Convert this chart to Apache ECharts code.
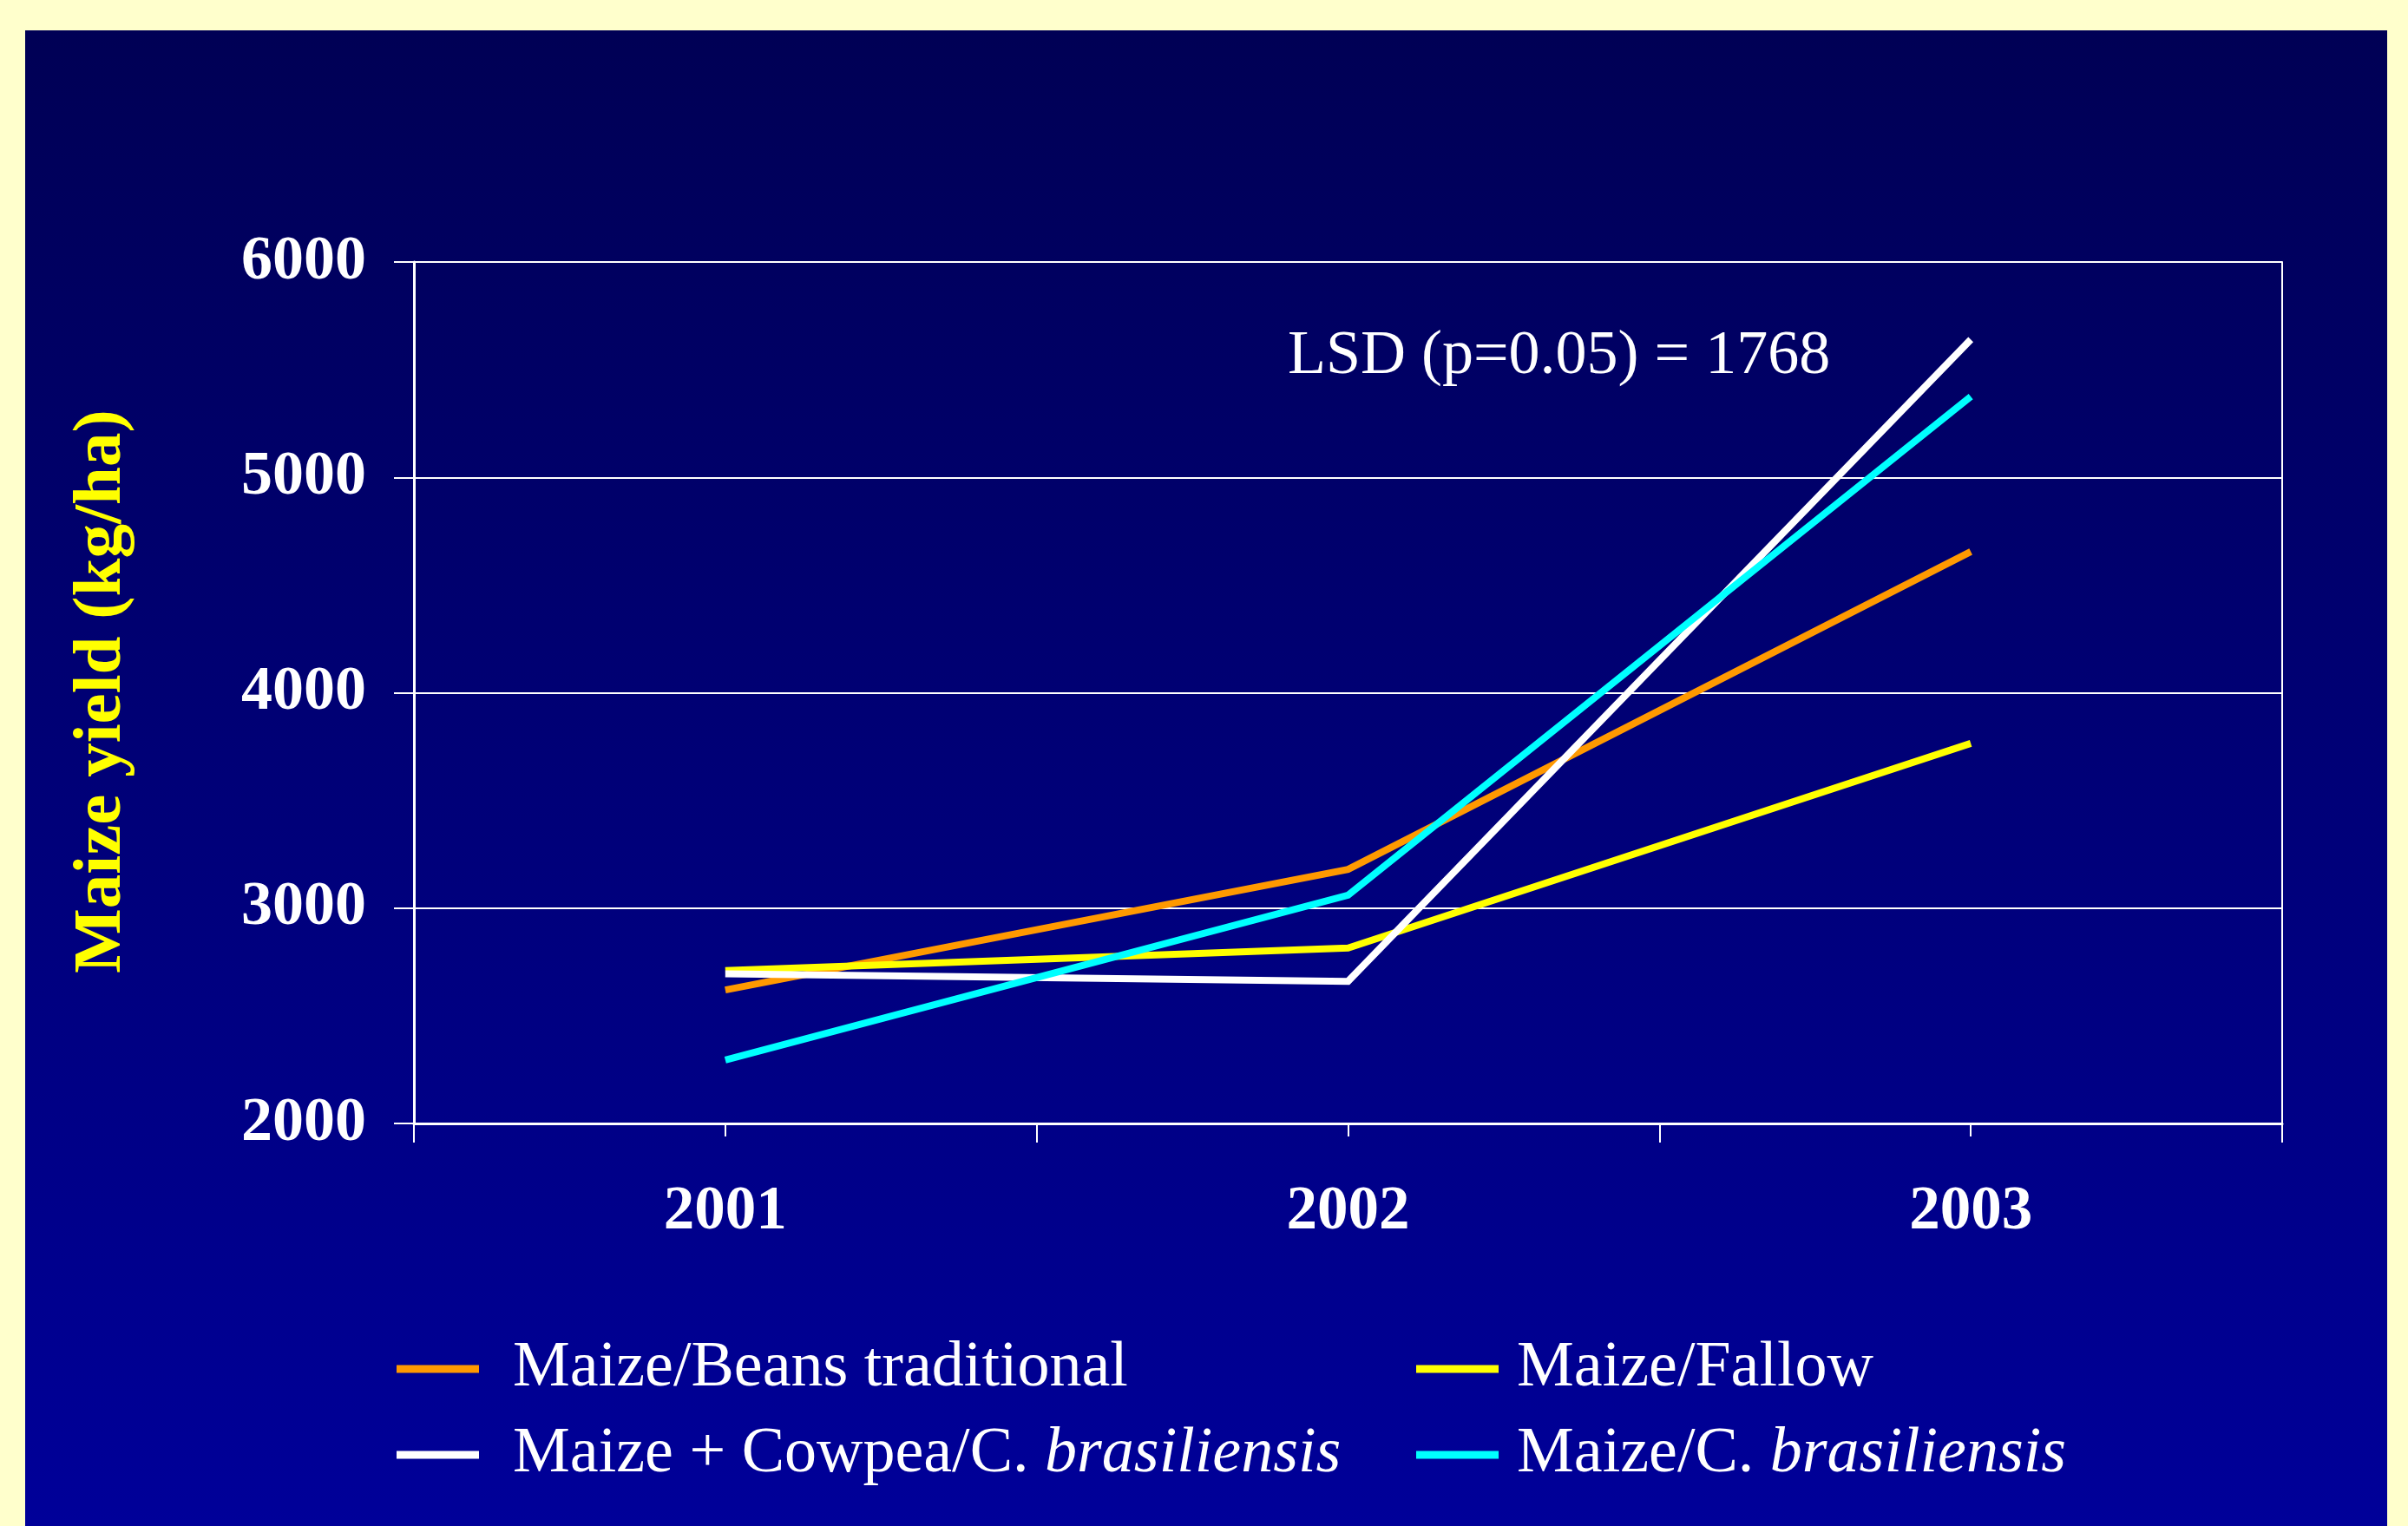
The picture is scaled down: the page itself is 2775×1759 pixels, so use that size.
<!DOCTYPE html>
<html>
<head>
<meta charset="utf-8">
<title>Maize yield 2001–2003</title>
<script src="https://cdn.jsdelivr.net/npm/echarts@6/dist/echarts.min.js"></script>
<style>
  html, body { margin: 0; padding: 0; background: #FFFFCC; }
  #chart { width: 2775px; height: 1759px; }
</style>
</head>
<body>
<div id="chart"></div>
<script>
// Growing seasons on the category axis
const years = ['2001', '2002', '2003'];

// Maize grain yield (kg/ha) per cropping system
const maizeBeansTraditional = [2620, 3180, 4655];
const maizeFallow = [2710, 2815, 3765];
const maizeCowpeaCbras = [2695, 2660, 5640];
const maizeCbras = [2295, 3060, 5375];

// Value axis range and step
const yMin = 2000;
const yMax = 6000;
const yStep = 1000;

const seriesNames = [
  'Maize/Beans traditional',
  'Maize/Fallow',
  'Maize + Cowpea/C. brasiliensis',
  'Maize/C. brasiliensis'
];
// Legend captions (species epithet set in italics)
const legendCaptions = {
  'Maize/Beans traditional': '{r|Maize/Beans traditional}',
  'Maize/Fallow': '{r|Maize/Fallow}',
  'Maize + Cowpea/C. brasiliensis': '{r|Maize + Cowpea/C. }{i|brasiliensis}',
  'Maize/C. brasiliensis': '{r|Maize/C. }{i|brasiliensis}'
};
const lsdText = 'LSD (p=0.05) = 1768';
const yTitle = 'Maize yield (kg/ha)';

const serif = '"Liberation Serif", "Times New Roman", serif';
const colors = ['#FF9900', '#FFFF00', '#FFFFFF', '#00FFFF'];
const values = [maizeBeansTraditional, maizeFallow, maizeCowpeaCbras, maizeCbras];

const chart = echarts.init(document.getElementById('chart'), null, { renderer: 'canvas' });

function legendFor(name, left, top, gapLeft) {
  return {
    data: [name],
    left: left,
    top: top,
    padding: 0,
    icon: 'rect',
    itemWidth: 95,
    itemHeight: 9,
    selectedMode: false,
    formatter: n => legendCaptions[n],
    textStyle: {
      color: '#FFFFFF',
      fontFamily: serif,
      fontSize: 74,
      lineHeight: 80,
      padding: [0, 0, 0, gapLeft],
      rich: {
        r: { color: '#FFFFFF', fontFamily: serif, fontSize: 74, lineHeight: 80 },
        i: { color: '#FFFFFF', fontFamily: serif, fontSize: 74, lineHeight: 80, fontStyle: 'italic' }
      }
    }
  };
}

const option = {
  backgroundColor: '#FFFFCC',
  animation: false,
  grid: { left: 477, right: 145, top: 302, bottom: 464, containLabel: false },
  graphic: [
    {
      type: 'rect',
      z: -10,
      silent: true,
      shape: { x: 29, y: 35, width: 2722, height: 1724 },
      style: {
        fill: new echarts.graphic.LinearGradient(0, 0, 0, 1, [
          { offset: 0, color: '#000055' },
          { offset: 1, color: '#000099' }
        ])
      }
    },
    {
      type: 'text',
      z: 10,
      x: 118,
      y: 797,
      rotation: Math.PI / 2,
      style: {
        text: yTitle,
        fill: '#FFFF00',
        font: 'bold 79px ' + serif,
        align: 'center',
        verticalAlign: 'middle'
      }
    },
    {
      type: 'text',
      z: 10,
      x: 1484,
      y: 411,
      style: {
        text: lsdText,
        fill: '#FFFFFF',
        font: '72px ' + serif,
        align: 'left',
        verticalAlign: 'middle'
      }
    }
  ],
  legend: [
    legendFor(seriesNames[0], 457, 1538, 34),
    legendFor(seriesNames[1], 1632, 1538, 16),
    legendFor(seriesNames[2], 457, 1637, 34),
    legendFor(seriesNames[3], 1632, 1637, 16)
  ],
  xAxis: [
    {
      type: 'category',
      position: 'bottom',
      data: years,
      boundaryGap: true,
      axisLine: { show: true, lineStyle: { color: '#FFFFFF', width: 3 } },
      axisTick: { show: true, length: 22, lineStyle: { color: '#FFFFFF', width: 2 } },
      axisLabel: {
        color: '#FFFFFF', fontFamily: serif, fontWeight: 'bold', fontSize: 71, margin: 67
      },
      splitLine: { show: false }
    },
    {
      type: 'category',
      position: 'bottom',
      data: years,
      boundaryGap: true,
      axisLine: { show: false },
      axisTick: { show: true, alignWithLabel: true, length: 15, lineStyle: { color: '#FFFFFF', width: 2 } },
      axisLabel: { show: false },
      splitLine: { show: false }
    }
  ],
  yAxis: [
    {
      type: 'value',
      position: 'left',
      min: yMin,
      max: yMax,
      interval: yStep,
      axisLine: { show: true, lineStyle: { color: '#FFFFFF', width: 3 } },
      axisTick: { show: true, length: 23, lineStyle: { color: '#FFFFFF', width: 2 } },
      axisLabel: {
        color: '#FFFFFF', fontFamily: serif, fontWeight: 'bold', fontSize: 72, margin: 55,
        formatter: v => String(v)
      },
      splitLine: { show: true, lineStyle: { color: '#FFFFFF', width: 2 } }
    },
    {
      type: 'value',
      position: 'right',
      min: yMin,
      max: yMax,
      interval: yStep,
      axisLine: { show: true, lineStyle: { color: '#FFFFFF', width: 2 } },
      axisTick: { show: false },
      axisLabel: { show: false },
      splitLine: { show: false }
    }
  ],
  series: seriesNames.map((name, i) => ({
    name: name,
    type: 'line',
    xAxisIndex: 0,
    yAxisIndex: 0,
    data: values[i],
    color: colors[i],
    showSymbol: false,
    symbol: 'none',
    lineStyle: { color: colors[i], width: 8, join: 'miter' },
    z: 3 + i
  }))
};

chart.setOption(option);
</script>
</body>
</html>
